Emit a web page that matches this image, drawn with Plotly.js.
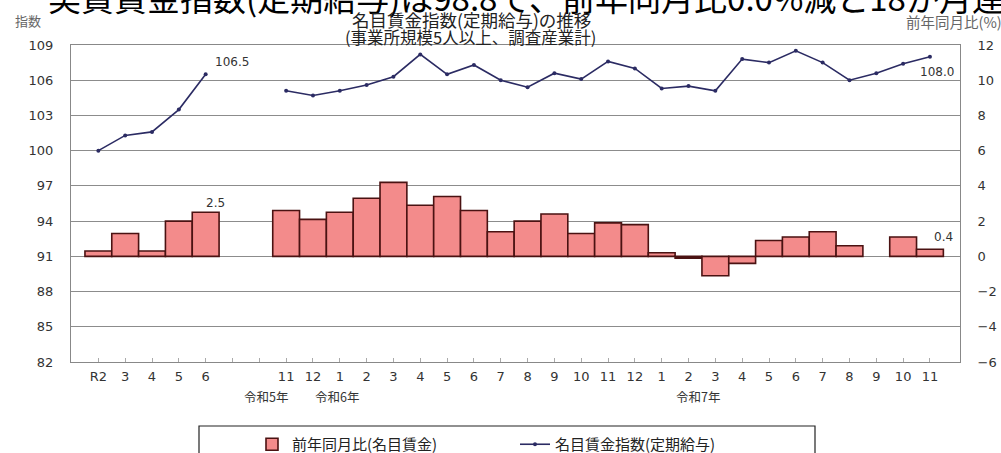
<!DOCTYPE html>
<html>
<head>
<meta charset="utf-8">
<script src="https://cdn.plot.ly/plotly-3.0.1.min.js"></script>
<style>
html,body{margin:0;padding:0;background:#fff;}
#chart{width:1001px;height:453px;}
</style>
</head>
<body>
<div id="chart"></div>
<script>
// ---- data ----
const categories = ['R2','3','4','5','6','','','11','12','1','2','3','4','5','6','7','8','9','10','11','12','1','2','3','4','5','6','7','8','9','10','11'];
const yoyPct = [0.3,1.3,0.3,2.0,2.5,null,null,2.6,2.1,2.5,3.3,4.2,2.9,3.4,2.6,1.4,2.0,2.4,1.3,1.9,1.8,0.2,-0.1,-1.1,-0.4,0.9,1.1,1.4,0.6,null,1.1,0.4];
const wageIndex = [100.0,101.3,101.6,103.5,106.5,null,null,105.1,104.7,105.1,105.6,106.3,108.2,106.5,107.3,106.0,105.4,106.6,106.1,107.6,107.0,105.3,105.5,105.1,107.8,107.5,108.5,107.5,106.0,106.6,107.4,108.0];
const yearLabels = ['令和5年','令和6年','令和7年'];
const seriesNames = ['前年同月比(名目賃金)','名目賃金指数(定期給与)'];
const titleText = '名目賃金指数(定期給与)の推移';
const subtitleText = '(事業所規模5人以上、調査産業計)';
const headline = '実質賃金指数(定期給与)は98.8で、前年同月比0.0%減と18か月連続で減少';

// ---- layout helpers ----
const W = 1001, H = 453;
const L = 71, R = 960, T = 45, B = 362;
const px = v => (v - L) / (R - L);
const py = v => (B - v) / (B - T);
const xs = categories.map((_, i) => i);
const last = xs.length - 1;

const JP = '"Noto Sans CJK JP", "Noto Sans", sans-serif';
const NUM = '"DejaVu Sans", Arial, sans-serif';

const traces = [
  {
    type: 'bar', x: xs, y: yoyPct, yaxis: 'y2', name: seriesNames[0],
    marker: {color: '#f38b8b', line: {color: '#4a1212', width: 1.6}},
    hoverinfo: 'skip'
  },
  {
    type: 'scatter', mode: 'lines+markers', x: xs, y: wageIndex, yaxis: 'y', name: seriesNames[1],
    line: {color: '#2b2b63', width: 1.6}, marker: {color: '#2b2b63', size: 4},
    connectgaps: false, hoverinfo: 'skip'
  }
];

const ann = [];
// headline (clipped at top in the reference)
ann.push({xref:'paper', yref:'paper', x: px(46), y: py(-3), xanchor:'left', yanchor:'middle',
  text: headline, showarrow:false, font:{family: JP, size: 33, color:'#000'}});
ann.push({xref:'paper', yref:'paper', x: px(471), y: py(19), xanchor:'center', yanchor:'middle',
  text: titleText, showarrow:false, font:{family: JP, size: 17.5, color:'#222'}});
ann.push({xref:'paper', yref:'paper', x: px(470), y: py(37), xanchor:'center', yanchor:'middle',
  text: subtitleText, showarrow:false, font:{family: JP, size: 16.5, color:'#222'}});
ann.push({xref:'paper', yref:'paper', x: px(13), y: py(20), xanchor:'left', yanchor:'middle',
  text: '指数', showarrow:false, font:{family: JP, size: 13, color:'#666'}});
ann.push({xref:'paper', yref:'paper', x: px(1004), y: py(21), xanchor:'right', yanchor:'middle',
  text: '前年同月比(%)', showarrow:false, font:{family: JP, size: 14.5, color:'#666'}});
// data labels
ann.push({xref:'x', yref:'y', x: xs[4], y: wageIndex[4], text: wageIndex[4].toFixed(1), showarrow:false,
  xshift: 26, yshift: 12, font:{family: NUM, size: 12, color:'#333'}});
ann.push({xref:'x', yref:'y2', x: xs[4], y: yoyPct[4], text: yoyPct[4].toFixed(1), showarrow:false,
  xshift: 10, yshift: 9, font:{family: NUM, size: 12, color:'#333'}});
ann.push({xref:'x', yref:'y', x: xs[last], y: wageIndex[last], text: wageIndex[last].toFixed(1), showarrow:false,
  xshift: 7, yshift: -15, font:{family: NUM, size: 12, color:'#333'}});
ann.push({xref:'x', yref:'y2', x: xs[last], y: yoyPct[last], text: yoyPct[last].toFixed(1), showarrow:false,
  xshift: 14, yshift: 12, font:{family: NUM, size: 12, color:'#333'}});
// year labels under the axis
const yearPx = [266, 337, 698];
yearLabels.forEach((t, i) => ann.push({xref:'paper', yref:'paper', x: px(yearPx[i]), y: py(396),
  xanchor:'center', yanchor:'middle', text: t, showarrow:false, font:{family: JP, size: 12.5, color:'#333'}}));

const layout = {
  width: W, height: H,
  margin: {l: L, r: W - R, t: T, b: H - B, pad: 0, autoexpand: false},
  paper_bgcolor: '#fff', plot_bgcolor: '#fff',
  bargap: 0,
  showlegend: true,
  legend: {orientation: 'h', x: px(252), y: py(428), xanchor: 'left', yanchor: 'top',
    font: {family: JP, size: 15, color: '#222'}, bgcolor: 'rgba(0,0,0,0)', borderwidth: 0,
    entrywidth: 218, entrywidthmode: 'pixels', traceorder: 'normal'},
  xaxis: {range: [-1.02, 32.12], tickmode: 'array', tickvals: xs, ticktext: categories,
    ticks: 'inside', ticklen: 4, tickcolor: '#aaa', showgrid: false, zeroline: false,
    showline: true, mirror: true, linecolor: '#888', linewidth: 1,
    tickfont: {family: NUM, size: 13, color: '#333'}, ticklabelstandoff: 2, fixedrange: true},
  yaxis: {range: [82, 109], tickmode: 'linear', tick0: 82, dtick: 3, showgrid: true, gridcolor: '#8c8c8c', gridwidth: 1,
    zeroline: false, showline: true, linecolor: '#888', ticks: '', ticklabelstandoff: 14,
    tickfont: {family: NUM, size: 13, color: '#333'}, fixedrange: true},
  yaxis2: {range: [-6, 12], tickmode: 'linear', tick0: -6, dtick: 2, overlaying: 'y', side: 'right', showgrid: false,
    zeroline: false, showline: true, linecolor: '#888', ticks: '', ticklabelstandoff: 14,
    tickfont: {family: NUM, size: 13, color: '#333'}, fixedrange: true},
  annotations: ann,
  shapes: [
    {type: 'rect', xref: 'paper', yref: 'paper', x0: px(199), x1: px(815), y0: py(426), y1: py(470),
      line: {color: '#222', width: 1.2}, fillcolor: 'rgba(0,0,0,0)', layer: 'above'}
  ]
};

Plotly.newPlot('chart', traces, layout, {staticPlot: true, displayModeBar: false});
</script>
</body>
</html>
